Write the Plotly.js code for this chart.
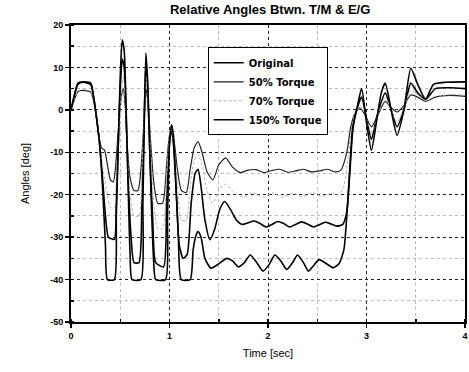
<!DOCTYPE html>
<html><head><meta charset="utf-8">
<script src="https://cdn.plot.ly/plotly-3.0.1.min.js"></script>
<style>body{margin:0;background:#fff}#c{width:469px;height:372px}</style>
</head><body><div id="c"></div>
<script>
// Series names
const seriesNames = ["Original", "50% Torque", "70% Torque", "150% Torque"];

// Original (100%)
const tOrig = [0,0.03,0.07,0.12,0.2,0.23,0.26,0.29,0.32,0.35,0.38,0.44,0.46,0.48,0.5,0.52,0.54,0.56,0.58,0.61,0.64,0.69,0.72,0.74,0.76,0.78,0.8,0.83,0.86,0.94,0.97,1.0,1.02,1.04,1.07,1.1,1.14,1.18,1.22,1.26,1.29,1.32,1.36,1.41,1.46,1.51,1.56,1.62,1.68,1.74,1.8,1.86,1.92,1.98,2.04,2.1,2.16,2.22,2.28,2.34,2.4,2.46,2.52,2.58,2.64,2.7,2.76,2.8,2.83,2.86,2.9,2.95,3.0,3.05,3.1,3.19,3.25,3.31,3.38,3.45,3.52,3.6,3.7,3.85,4.0];
const yOrig = [0,3,6,6.5,6,3,-2,-8,-16,-25,-30,-30.5,-22,-8,5,12,10,-2,-16,-30,-36,-36,-22,-6,11,4,-10,-26,-36,-37,-22,-8,-4.5,-8,-20,-32,-35,-34,-22,-15,-14,-18,-26,-30.6,-28,-23.5,-21.6,-23.5,-26,-27,-26.6,-26.2,-26.8,-27.6,-27,-26.3,-26.8,-27.6,-27,-26.4,-26.9,-27.6,-27.1,-26.5,-26.9,-27.4,-27,-24,-15,-5,0,3,-2,-7,-2,4,0,-4,0,6.3,4,2.5,5,5.2,5.0];

// 50% Torque
const t50 = [0,0.03,0.07,0.12,0.2,0.23,0.26,0.29,0.31,0.34,0.37,0.4,0.43,0.45,0.48,0.51,0.53,0.55,0.57,0.6,0.64,0.68,0.71,0.74,0.76,0.78,0.81,0.84,0.88,0.93,0.97,1.0,1.02,1.05,1.08,1.12,1.17,1.21,1.25,1.29,1.33,1.38,1.44,1.5,1.57,1.64,1.72,1.8,1.88,1.96,2.04,2.12,2.2,2.28,2.36,2.44,2.52,2.6,2.68,2.74,2.8,2.84,2.88,2.93,2.98,3.05,3.12,3.19,3.25,3.31,3.38,3.45,3.52,3.6,3.7,3.85,4.0];
const y50 = [0,2,4.3,4.6,4.2,2,-2,-7,-9,-9.5,-13,-16.5,-17,-14,-5,3,5,1,-8,-16,-19,-19,-14,-3,5,2,-8,-17,-22,-22,-13,-6,-5,-8,-14,-19,-19.5,-14,-9,-7.5,-10,-14.5,-16.5,-13,-11.3,-13.5,-14.8,-14.2,-14.1,-14.8,-14.3,-14,-14.7,-14.4,-14,-14.6,-14.4,-14,-14.6,-14.2,-10,-4,-1,0.5,-1,-4,-1,2,0.5,-0.5,1,3.5,3,2,3,3.4,3.2];

// 70% Torque
const t70 = [0,0.03,0.07,0.12,0.2,0.23,0.26,0.29,0.32,0.36,0.4,0.44,0.46,0.49,0.51,0.53,0.55,0.57,0.6,0.64,0.69,0.72,0.74,0.76,0.78,0.81,0.84,0.88,0.93,0.97,1.0,1.02,1.05,1.08,1.12,1.17,1.21,1.25,1.29,1.33,1.38,1.44,1.5,1.57,1.65,1.75,1.85,1.95,2.05,2.15,2.25,2.35,2.45,2.55,2.65,2.72,2.77,2.81,2.85,2.89,2.94,2.99,3.05,3.12,3.19,3.25,3.31,3.38,3.45,3.52,3.6,3.7,3.85,4.0];
const y70 = [0,2,4.5,4.8,4.4,2,-2,-8,-13,-19,-23,-23,-16,-4,4,8,3,-8,-20,-25,-25,-14,-3,8,3,-10,-22,-28,-28,-16,-6,-4,-9,-18,-26,-26,-18,-12,-10.5,-13,-19,-22,-19,-17.5,-19.5,-20.5,-19.5,-20.6,-19.6,-20.6,-19.6,-20.5,-19.5,-20.4,-19.6,-20,-18,-12,-4,-0.5,1,-1.5,-5.5,-1,3,0,-3,0.5,4.7,3.5,2.2,3.2,3.6,3.5];

// 150% Torque
const t150 = [0,0.03,0.07,0.12,0.2,0.23,0.26,0.29,0.32,0.35,0.37,0.44,0.46,0.48,0.5,0.52,0.54,0.56,0.58,0.6,0.62,0.71,0.73,0.74,0.76,0.78,0.8,0.82,0.84,0.86,0.96,0.98,1.0,1.02,1.04,1.06,1.09,1.12,1.21,1.24,1.27,1.29,1.32,1.36,1.42,1.5,1.58,1.64,1.7,1.76,1.82,1.88,1.95,2.01,2.07,2.13,2.19,2.25,2.3,2.36,2.41,2.47,2.52,2.59,2.66,2.72,2.77,2.8,2.83,2.86,2.9,2.95,3.0,3.05,3.1,3.15,3.19,3.25,3.31,3.38,3.45,3.52,3.6,3.68,3.8,4.0];
const y150 = [0,3,6.3,6.6,6.3,3,-2,-8,-18,-32,-40,-40,-25,-8,8,16.5,14,0,-18,-34,-40,-40,-22,-8,13.4,6,-10,-25,-36,-40,-40,-25,-8,-3.5,-6,-15,-30,-40,-40,-33,-29.5,-28.7,-30,-35,-37.3,-36.3,-35,-35.6,-37,-36,-34.2,-35.8,-38,-36.5,-34.2,-35.6,-37.6,-36,-34.2,-36,-38,-36.5,-35.3,-36.2,-37.2,-36.3,-33,-25,-14,-4,0,5,-3,-9.5,-3,4,6.3,0,-6,0,9.8,6,2.5,6,6.5,6.6];

const tickX = [0,1,2,3,4];
const tickY = [-50,-40,-30,-20,-10,0,10,20];

const font = "Arial, 'Liberation Sans', sans-serif";
const traces = [
  {x:tOrig, y:yOrig, name:seriesNames[0], line:{color:'#000', width:1.6}},
  {x:t50, y:y50, name:seriesNames[1], line:{color:'#222', width:1.2}},
  {x:t70, y:y70, name:seriesNames[2], line:{color:'#b5b5b5', width:1, dash:'3px,2px'}},
  {x:t150, y:y150, name:seriesNames[3], line:{color:'#000', width:1.6}}
].map(t => Object.assign({type:'scatter', mode:'lines'}, t, {line:Object.assign({shape:'spline', smoothing:0.6}, t.line)}));

const axisCommon = {
  showline:true, linecolor:'#000', linewidth:2, mirror:true,
  ticks:'outside', ticklen:4, tickcolor:'#000', tickwidth:1.5,
  showgrid:true, gridcolor:'#222', griddash:'dot', gridwidth:1,
  zeroline:false, ticklabeloverflow:'allow',
  tickfont:{family:font, size:9, color:'#000', weight:'bold'}
};
const layout = {
  width:469, height:372,
  margin:{l:71, r:4, t:25, b:50},
  paper_bgcolor:'#fff', plot_bgcolor:'#fff',
  title:{text:'Relative Angles Btwn. T/M &amp; E/G', font:{family:font, size:13, color:'#000', weight:'bold'}, x:0.576, xanchor:'center', y:0.975, yanchor:'middle'},
  xaxis:Object.assign({}, axisCommon, {range:[0,4], tickvals:tickX, ticktext:tickX.map(String),
    minor:{dtick:0.5, showgrid:true, gridcolor:'#bbb', griddash:'dot', ticks:'inside', ticklen:3, tickcolor:'#000'},
    title:{text:'Time [sec]', font:{family:font, size:11, color:'#000'}, standoff:10}}),
  yaxis:Object.assign({}, axisCommon, {range:[-50,20], tickvals:tickY, ticktext:tickY.map(String),
    minor:{dtick:5, showgrid:true, gridcolor:'#bbb', griddash:'dot', ticks:'inside', ticklen:3, tickcolor:'#000'},
    title:{text:'Angles [deg]', font:{family:font, size:11, color:'#000'}, standoff:18}}),
  legend:{x:0.347, y:0.925, xanchor:'left', yanchor:'top', bgcolor:'#fff', bordercolor:'#000', borderwidth:1,
    font:{family:"'DejaVu Sans', sans-serif", size:10, color:'#000', weight:'bold'}, tracegroupgap:0, itemwidth:30},
  showlegend:true
};
Plotly.newPlot('c', traces, layout, {displayModeBar:false, staticPlot:true});
</script></body></html>
